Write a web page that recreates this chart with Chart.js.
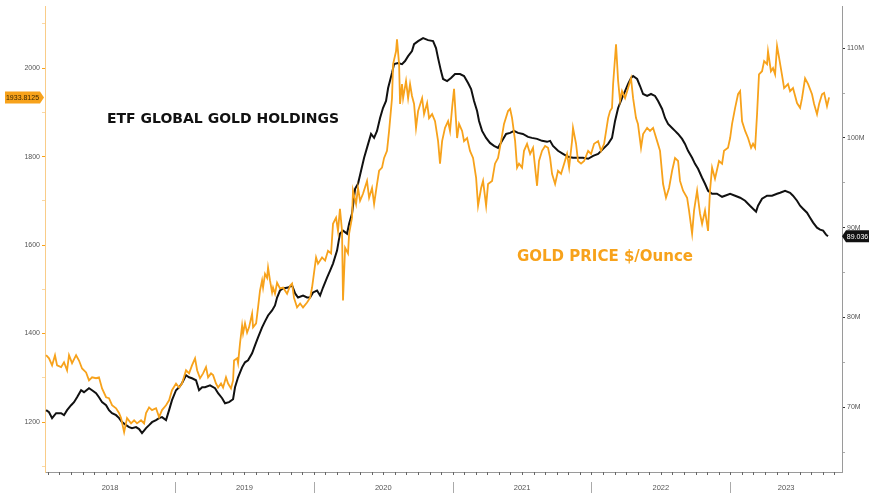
<!DOCTYPE html>
<html>
<head>
<meta charset="utf-8">
<script src="https://cdn.jsdelivr.net/npm/chart.js@4.4.0/dist/chart.umd.min.js"></script>
<style>
  html, body { margin: 0; padding: 0; background: #fff; }
  #wrap { width: 869px; height: 493px; }
</style>
</head>
<body>
<div id="wrap"><canvas id="goldChart" width="869" height="493"></canvas></div>
<script>
// gold price, $/oz (x = decimal year)
const goldDates = [
  2018.071, 2018.092, 2018.114, 2018.135, 2018.150, 2018.179, 2018.200, 2018.222, 2018.236, 2018.258,
  2018.287, 2018.308, 2018.330, 2018.359, 2018.380, 2018.402, 2018.431, 2018.452, 2018.474, 2018.503,
  2018.524, 2018.546, 2018.575, 2018.597, 2018.611, 2018.633, 2018.654, 2018.683, 2018.705, 2018.726,
  2018.755, 2018.777, 2018.791, 2018.813, 2018.834, 2018.863, 2018.885, 2018.906, 2018.935, 2018.957,
  2018.978, 2019.007, 2019.029, 2019.050, 2019.079, 2019.101, 2019.122, 2019.144, 2019.159, 2019.180,
  2019.202, 2019.223, 2019.238, 2019.259, 2019.274, 2019.295, 2019.310, 2019.331, 2019.346, 2019.367,
  2019.382, 2019.403, 2019.418, 2019.425, 2019.447, 2019.454, 2019.468, 2019.483, 2019.490, 2019.504,
  2019.519, 2019.533, 2019.555, 2019.562, 2019.584, 2019.598, 2019.612, 2019.627, 2019.634, 2019.648,
  2019.663, 2019.670, 2019.684, 2019.699, 2019.706, 2019.720, 2019.735, 2019.756, 2019.778, 2019.807,
  2019.829, 2019.843, 2019.857, 2019.879, 2019.901, 2019.922, 2019.951, 2019.973, 2019.987, 2019.994,
  2020.016, 2020.030, 2020.059, 2020.081, 2020.102, 2020.124, 2020.138, 2020.160, 2020.174, 2020.188,
  2020.203, 2020.210, 2020.225, 2020.246, 2020.254, 2020.275, 2020.282, 2020.304, 2020.318, 2020.333,
  2020.354, 2020.383, 2020.398, 2020.419, 2020.434, 2020.455, 2020.470, 2020.491, 2020.506, 2020.527,
  2020.542, 2020.563, 2020.571, 2020.592, 2020.599, 2020.614, 2020.621, 2020.635, 2020.643, 2020.664,
  2020.679, 2020.693, 2020.707, 2020.722, 2020.736, 2020.751, 2020.780, 2020.794, 2020.816, 2020.830,
  2020.852, 2020.873, 2020.895, 2020.909, 2020.924, 2020.945, 2020.967, 2020.981, 2020.996, 2021.010,
  2021.032, 2021.046, 2021.068, 2021.082, 2021.104, 2021.125, 2021.147, 2021.169, 2021.183, 2021.205,
  2021.219, 2021.241, 2021.255, 2021.284, 2021.305, 2021.327, 2021.349, 2021.370, 2021.399, 2021.414,
  2021.428, 2021.450, 2021.464, 2021.478, 2021.500, 2021.514, 2021.536, 2021.558, 2021.579, 2021.608,
  2021.622, 2021.644, 2021.666, 2021.687, 2021.702, 2021.716, 2021.738, 2021.759, 2021.781, 2021.803,
  2021.824, 2021.839, 2021.860, 2021.867, 2021.889, 2021.903, 2021.925, 2021.947, 2021.976, 2021.997,
  2022.019, 2022.048, 2022.069, 2022.091, 2022.120, 2022.134, 2022.148, 2022.156, 2022.177, 2022.192,
  2022.206, 2022.220, 2022.242, 2022.264, 2022.285, 2022.300, 2022.321, 2022.335, 2022.357, 2022.372,
  2022.401, 2022.422, 2022.444, 2022.473, 2022.494, 2022.516, 2022.537, 2022.559, 2022.581, 2022.602,
  2022.624, 2022.638, 2022.660, 2022.689, 2022.703, 2022.725, 2022.739, 2022.761, 2022.782, 2022.797,
  2022.818, 2022.840, 2022.854, 2022.869, 2022.890, 2022.919, 2022.941, 2022.955, 2022.984, 2022.999,
  2023.013, 2023.035, 2023.056, 2023.071, 2023.085, 2023.107, 2023.128, 2023.150, 2023.164, 2023.179,
  2023.193, 2023.207, 2023.229, 2023.244, 2023.265, 2023.272, 2023.293, 2023.308, 2023.323, 2023.337,
  2023.352, 2023.372, 2023.388, 2023.416, 2023.431, 2023.452, 2023.481, 2023.503, 2023.517, 2023.539,
  2023.561, 2023.589, 2023.604, 2023.625, 2023.640, 2023.661, 2023.676, 2023.697, 2023.712
];
const goldPrice = [
  1351, 1344, 1328, 1351, 1328, 1324, 1335, 1317, 1351, 1333,
  1351, 1339, 1321, 1312, 1294, 1301, 1299, 1301, 1276, 1256,
  1254, 1238, 1231, 1220, 1209, 1177, 1209, 1197, 1204, 1197,
  1204, 1197, 1220, 1233, 1227, 1231, 1211, 1227, 1238, 1249,
  1272, 1287, 1278, 1287, 1317, 1310, 1328, 1344, 1317, 1299,
  1310, 1324, 1301, 1310, 1306, 1287, 1278, 1287, 1278, 1301,
  1287, 1276, 1294, 1339, 1344, 1333, 1378, 1418, 1400, 1423,
  1402, 1414, 1445, 1414, 1423, 1459, 1497, 1520, 1504, 1535,
  1526, 1549, 1520, 1493, 1504, 1490, 1515, 1502, 1504, 1490,
  1508, 1513, 1481, 1459, 1468, 1459, 1470, 1481, 1504, 1520,
  1572, 1558, 1572, 1565, 1587, 1581, 1648, 1662, 1632, 1682,
  1632, 1475, 1594, 1581, 1626, 1662, 1723, 1693, 1729, 1700,
  1716, 1745, 1707, 1729, 1693, 1738, 1768, 1775, 1797, 1813,
  1858, 1932, 2009, 2038, 2065, 2009, 1919, 1964, 1932, 1971,
  1932, 1964, 1937, 1919, 1865, 1903, 1932, 1896, 1921, 1887,
  1896, 1880, 1835, 1784, 1835, 1865, 1880, 1858, 1910, 1953,
  1842, 1874, 1858, 1835, 1842, 1813, 1797, 1752, 1689, 1729,
  1745, 1689, 1738, 1745, 1784, 1797, 1835, 1874, 1903, 1908,
  1887, 1835, 1775, 1784, 1775, 1813, 1829, 1806, 1820, 1734,
  1790, 1813, 1824, 1820, 1797, 1761, 1738, 1768, 1761, 1784,
  1806, 1775, 1835, 1865, 1829, 1790, 1784, 1790, 1813, 1806,
  1829, 1835, 1813, 1829, 1887, 1903, 1910, 1964, 2054, 1971,
  1926, 1948, 1932, 1955, 1977, 1932, 1887, 1874, 1820, 1851,
  1865, 1858, 1865, 1835, 1813, 1738, 1707, 1729, 1768, 1797,
  1790, 1745, 1723, 1707, 1678, 1626, 1678, 1723, 1671, 1648,
  1678, 1632, 1723, 1775, 1750, 1790, 1784, 1813, 1820, 1842,
  1874, 1910, 1941, 1948, 1880, 1858, 1842, 1820, 1829, 1820,
  1896, 1986, 1993, 2016, 2009, 2038, 1993, 2000, 1986, 2050,
  2023, 1986, 1955, 1964, 1948, 1955, 1921, 1910, 1932, 1977,
  1964, 1941, 1919, 1896, 1919, 1941, 1944, 1914, 1933.8125
];

// ETF global gold holdings, million oz
const etfDates = [
  2018.071, 2018.092, 2018.114, 2018.143, 2018.179, 2018.200, 2018.222, 2018.251, 2018.272, 2018.294,
  2018.323, 2018.344, 2018.380, 2018.402, 2018.431, 2018.452, 2018.474, 2018.503, 2018.524, 2018.546,
  2018.575, 2018.597, 2018.618, 2018.647, 2018.669, 2018.690, 2018.719, 2018.741, 2018.762, 2018.791,
  2018.813, 2018.834, 2018.863, 2018.885, 2018.906, 2018.935, 2018.957, 2018.978, 2019.007, 2019.029,
  2019.050, 2019.079, 2019.101, 2019.122, 2019.151, 2019.173, 2019.195, 2019.216, 2019.252, 2019.288,
  2019.310, 2019.339, 2019.360, 2019.389, 2019.418, 2019.432, 2019.454, 2019.483, 2019.504, 2019.526,
  2019.555, 2019.576, 2019.598, 2019.627, 2019.648, 2019.670, 2019.699, 2019.720, 2019.735, 2019.756,
  2019.778, 2019.814, 2019.843, 2019.865, 2019.886, 2019.922, 2019.951, 2019.973, 2019.994, 2020.023,
  2020.045, 2020.066, 2020.095, 2020.117, 2020.138, 2020.167, 2020.188, 2020.210, 2020.239, 2020.254,
  2020.275, 2020.297, 2020.318, 2020.340, 2020.362, 2020.391, 2020.412, 2020.434, 2020.455, 2020.477,
  2020.498, 2020.520, 2020.535, 2020.563, 2020.578, 2020.607, 2020.635, 2020.657, 2020.679, 2020.707,
  2020.722, 2020.751, 2020.787, 2020.823, 2020.859, 2020.880, 2020.895, 2020.916, 2020.931, 2020.960,
  2020.988, 2021.017, 2021.053, 2021.082, 2021.111, 2021.133, 2021.154, 2021.176, 2021.190, 2021.212,
  2021.241, 2021.269, 2021.298, 2021.327, 2021.356, 2021.385, 2021.414, 2021.442, 2021.471, 2021.506,
  2021.543, 2021.571, 2021.608, 2021.644, 2021.680, 2021.702, 2021.723, 2021.759, 2021.795, 2021.831,
  2021.867, 2021.903, 2021.939, 2021.976, 2022.012, 2022.048, 2022.084, 2022.120, 2022.148, 2022.170,
  2022.192, 2022.220, 2022.242, 2022.264, 2022.285, 2022.300, 2022.329, 2022.350, 2022.372, 2022.401,
  2022.429, 2022.458, 2022.480, 2022.509, 2022.530, 2022.552, 2022.581, 2022.602, 2022.624, 2022.653,
  2022.674, 2022.696, 2022.725, 2022.746, 2022.768, 2022.797, 2022.818, 2022.840, 2022.869, 2022.904,
  2022.941, 2022.962, 2022.999, 2023.035, 2023.071, 2023.107, 2023.142, 2023.164, 2023.186, 2023.200,
  2023.229, 2023.265, 2023.301, 2023.337, 2023.359, 2023.395, 2023.431, 2023.452, 2023.481, 2023.503,
  2023.524, 2023.553, 2023.575, 2023.597, 2023.625, 2023.647, 2023.669, 2023.690, 2023.704
];
const etfHoldings = [
  69.67, 69.44, 68.78, 69.33, 69.33, 69.11, 69.67, 70.22, 70.56, 71.11,
  71.89, 71.67, 72.11, 71.89, 71.56, 71.11, 70.56, 70.22, 69.67, 69.33,
  69.11, 68.78, 68.33, 68.00, 67.78, 67.67, 67.78, 67.56, 67.11, 67.67,
  68.00, 68.33, 68.56, 68.78, 68.89, 68.56, 69.67, 70.78, 71.89, 72.22,
  72.67, 73.56, 73.33, 73.22, 73.00, 71.89, 72.22, 72.22, 72.44, 72.11,
  71.56, 71.00, 70.44, 70.56, 70.89, 72.22, 73.33, 74.44, 75.00, 75.22,
  76.00, 76.89, 77.78, 78.89, 79.56, 80.22, 80.78, 81.33, 82.22, 83.00,
  83.22, 83.33, 83.56, 82.67, 82.22, 82.44, 82.22, 82.22, 82.78, 83.00,
  82.44, 83.33, 84.44, 85.22, 86.00, 87.44, 89.33, 89.67, 89.33, 90.44,
  91.56, 94.33, 94.89, 96.33, 97.78, 99.33, 100.44, 100.00, 100.78, 102.22,
  103.33, 104.11, 105.56, 107.22, 108.22, 108.33, 108.22, 108.56, 109.11, 109.67,
  110.44, 110.78, 111.11, 110.89, 110.78, 110.00, 108.89, 107.44, 106.56, 106.33,
  106.67, 107.11, 107.11, 106.89, 106.11, 105.44, 104.11, 103.00, 101.89, 100.78,
  100.00, 99.44, 99.11, 98.89, 99.67, 100.44, 100.56, 100.78, 100.56, 100.44,
  100.11, 100.00, 99.89, 99.67, 99.56, 99.67, 99.11, 98.56, 98.22, 97.89,
  97.78, 97.78, 97.78, 97.67, 98.00, 98.22, 98.78, 99.33, 100.00, 101.89,
  103.33, 104.44, 105.22, 106.00, 106.67, 106.89, 106.56, 105.78, 104.89, 104.67,
  104.89, 104.67, 104.11, 103.22, 102.22, 101.56, 101.11, 100.78, 100.44, 99.89,
  99.33, 98.56, 97.78, 97.11, 96.56, 95.56, 94.89, 94.11, 93.78, 93.78,
  93.44, 93.56, 93.78, 93.56, 93.33, 93.00, 92.44, 92.11, 91.78, 92.44,
  93.22, 93.56, 93.56, 93.78, 93.89, 94.11, 93.89, 93.56, 93.00, 92.44,
  92.11, 91.67, 91.11, 90.56, 90.00, 89.78, 89.67, 89.22, 89.036
];

const yearLabels = [2018, 2019, 2020, 2021, 2022, 2023];
const goldAxisTicks = [1100, 1200, 1300, 1400, 1500, 1600, 1700, 1800, 1900, 2000, 2100];
const etfAxisTicks = [65, 70, 75, 80, 85, 90, 95, 100, 105, 110];

const ORANGE = '#f7a21b';
const X_MIN = 2018.063;
const X_MAX = 2023.805;

const goldPoints = goldDates.map((t, i) => ({ x: t, y: goldPrice[i] }));
const etfPoints = etfDates.map((t, i) => ({ x: t, y: etfHoldings[i] }));

// year labels sit in the middle of the visible part of each year
const yearCenters = yearLabels.map(yr => (Math.max(yr, X_MIN) + Math.min(yr + 1, X_MAX)) / 2);

function tag(ctx, text, y, left, right, tipX, fill, color) {
  ctx.fillStyle = fill;
  ctx.beginPath();
  if (tipX > right) {
    ctx.moveTo(left, y - 6); ctx.lineTo(right, y - 6); ctx.lineTo(tipX, y);
    ctx.lineTo(right, y + 6); ctx.lineTo(left, y + 6);
  } else {
    ctx.moveTo(tipX, y); ctx.lineTo(left, y - 6); ctx.lineTo(right, y - 6);
    ctx.lineTo(right, y + 6); ctx.lineTo(left, y + 6);
  }
  ctx.closePath();
  ctx.fill();
  ctx.fillStyle = color;
  ctx.font = '7px "Liberation Sans"';
  ctx.textAlign = 'center';
  ctx.textBaseline = 'middle';
  ctx.fillText(text, (left + right) / 2, y + 0.5);
}

const extras = {
  id: 'extras',
  afterDraw(chart) {
    const { ctx, chartArea, scales } = chart;
    const xs = scales.x;
    const bottom = chartArea.bottom;
    ctx.save();

    // monthly tick marks under the axis
    ctx.strokeStyle = '#666';
    ctx.lineWidth = 1;
    for (let m = 1; m < 72; m++) {
      const t = 2018 + m / 12;
      if (t <= X_MIN || t >= X_MAX) continue;
      const px = Math.round(xs.getPixelForValue(t)) + 0.5;
      ctx.beginPath();
      ctx.moveTo(px, bottom);
      ctx.lineTo(px, bottom + 3);
      ctx.stroke();
    }

    // year separators
    ctx.strokeStyle = '#aaa';
    yearLabels.slice(1).forEach(yr => {
      const px = Math.round(xs.getPixelForValue(yr)) + 0.5;
      ctx.beginPath();
      ctx.moveTo(px, bottom + 10);
      ctx.lineTo(px, bottom + 21);
      ctx.stroke();
    });

    // annotations
    ctx.textAlign = 'left';
    ctx.textBaseline = 'middle';
    ctx.font = 'bold 14px "DejaVu Sans"';
    ctx.fillStyle = '#111';
    ctx.fillText('ETF GLOBAL GOLD HOLDINGS', 107, 119);
    ctx.font = 'bold 15px "DejaVu Sans"';
    ctx.fillStyle = ORANGE;
    ctx.fillText('GOLD PRICE $/Ounce', 517, 257);

    // last value tags
    const lastGold = goldPrice[goldPrice.length - 1];
    const lastEtf = etfHoldings[etfHoldings.length - 1];
    tag(ctx, String(lastGold), scales.y.getPixelForValue(lastGold), 5, 40, 44, ORANGE, '#3a2500');
    tag(ctx, lastEtf.toFixed(3), scales.y2.getPixelForValue(lastEtf), 846, 869, 842, '#111', '#fff');

    ctx.restore();
  }
};

new Chart(document.getElementById('goldChart'), {
  type: 'line',
  data: {
    datasets: [
      {
        label: 'Gold price $/Ounce',
        data: goldPoints,
        yAxisID: 'y',
        borderColor: ORANGE,
        borderWidth: 1.8,
        pointRadius: 0,
        tension: 0,
      },
      {
        label: 'ETF global gold holdings',
        data: etfPoints,
        yAxisID: 'y2',
        borderColor: '#111',
        borderWidth: 2,
        pointRadius: 0,
        tension: 0,
      },
    ],
  },
  options: {
    responsive: false,
    animation: false,
    layout: { padding: { top: 5, left: 0, right: 0, bottom: 0 } },
    plugins: {
      legend: { display: false },
      tooltip: { enabled: false },
    },
    scales: {
      x: {
        type: 'linear',
        min: X_MIN,
        max: X_MAX,
        afterBuildTicks: s => { s.ticks = yearCenters.map(v => ({ value: v })); },
        afterFit: s => { s.height = 21; },
        grid: { display: false, drawTicks: false },
        border: { color: '#9a9a9a' },
        ticks: {
          color: '#555',
          font: { size: 7.5, family: 'Liberation Sans' },
          padding: 11,
          maxRotation: 0,
          autoSkip: false,
          callback: v => String(Math.floor(v)),
        },
      },
      y: {
        position: 'left',
        min: 1087,
        max: 2140,
        afterBuildTicks: s => { s.ticks = goldAxisTicks.map(v => ({ value: v })); },
        afterFit: s => { s.width = 45; },
        grid: {
          drawOnChartArea: false,
          tickLength: 3,
          tickColor: c => (c.tick && c.tick.value % 200 === 0 ? ORANGE : '#fad8a4'),
        },
        border: { color: '#f9cc88' },
        ticks: {
          color: '#555',
          font: { size: 7, family: 'Liberation Sans' },
          padding: 2,
          autoSkip: false,
          callback: v => (v % 200 === 0 ? String(v) : ''),
        },
      },
      y2: {
        position: 'right',
        min: 62.78,
        max: 114.67,
        afterBuildTicks: s => { s.ticks = etfAxisTicks.map(v => ({ value: v })); },
        afterFit: s => { s.width = 27; },
        grid: {
          drawOnChartArea: false,
          tickLength: 3,
          tickColor: c => (c.tick && c.tick.value % 10 === 0 ? '#333' : '#aaa'),
        },
        border: { color: '#9a9a9a' },
        ticks: {
          color: '#555',
          font: { size: 7, family: 'Liberation Sans' },
          padding: 2,
          autoSkip: false,
          callback: v => (v % 10 === 0 ? v + 'M' : ''),
        },
      },
    },
  },
  plugins: [extras],
});
</script>
</body>
</html>
